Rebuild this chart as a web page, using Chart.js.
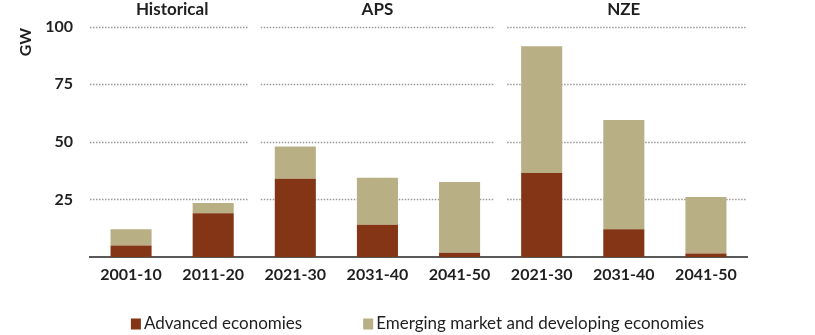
<!DOCTYPE html>
<html>
<head>
<meta charset="utf-8">
<script src="https://cdn.jsdelivr.net/npm/chart.js@4"></script>
<style>
  html, body { margin: 0; padding: 0; background: #fff; }
  #wrap { width: 815px; height: 335px; }
</style>
</head>
<body>
<div id="wrap"><canvas id="c" width="815" height="335"></canvas></div>
<script>
const categories = ['2001-10', '2011-20', '2021-30', '2031-40', '2041-50', '2021-30', '2031-40', '2041-50'];
const advanced = [5, 19, 34, 14, 1.8, 36.5, 12, 1.5];
const emerging = [7, 4.4, 14, 20.4, 30.8, 55, 47.5, 24.5];
const groupLabels = ['Historical', 'APS', 'NZE'];
const groupSizes = [2, 3, 3];
const yTicks = [25, 50, 75, 100];
const seriesNames = ['Advanced economies', 'Emerging market and developing economies'];
const colors = ['#843515', '#B8AF85'];

const FONT = 'Lato, "Open Sans", sans-serif';
const TEXT = '#1f1f1f';

const groupPlugin = {
  id: 'groupStuff',
  beforeDatasetsDraw(chart) {
    const { ctx, chartArea, scales } = chart;
    const x = scales.x, y = scales.y;
    const bounds = [];
    let idx = 0;
    for (let g = 0; g < groupSizes.length - 1; g++) {
      idx += groupSizes[g];
      bounds.push((x.getPixelForValue(idx - 1) + x.getPixelForValue(idx)) / 2);
    }
    const segs = [];
    let start = chartArea.left;
    bounds.forEach(b => { segs.push([start, b - 6.5]); start = b + 6.5; });
    segs.push([start, chartArea.right]);
    ctx.save();
    ctx.strokeStyle = '#999999';
    ctx.lineWidth = 1.5;
    ctx.setLineDash([1.5, 1.5]);
    yTicks.forEach(v => {
      const py = Math.round(y.getPixelForValue(v)) + 0.5;
      segs.forEach(s => {
        ctx.beginPath();
        ctx.moveTo(s[0], py);
        ctx.lineTo(s[1], py);
        ctx.stroke();
      });
    });
    ctx.restore();
  },
  afterDraw(chart) {
    const { ctx, scales } = chart;
    const x = scales.x;
    ctx.save();
    ctx.fillStyle = TEXT;
    ctx.font = 'bold 17px ' + FONT;
    ctx.textAlign = 'center';
    ctx.textBaseline = 'middle';
    let idx = 0;
    const half = (x.getPixelForValue(1) - x.getPixelForValue(0)) / 2;
    groupLabels.forEach((lab, g) => {
      const first = idx, last = idx + groupSizes[g] - 1;
      const cx = (x.getPixelForValue(first) - half + x.getPixelForValue(last) + half) / 2;
      ctx.fillText(lab, cx, 10);
      idx += groupSizes[g];
    });
    ctx.save();
    ctx.translate(25.5, 42);
    ctx.rotate(-Math.PI / 2);
    ctx.font = 'bold 16px ' + FONT;
    ctx.fillText('GW', 0, 0);
    ctx.restore();
    ctx.font = '17px ' + FONT;
    ctx.textAlign = 'left';
    const boxW = 10, gapBT = 3, gapItems = 61;
    const widths = seriesNames.map(n => ctx.measureText(n).width);
    const total = widths.reduce((a, w) => a + boxW + gapBT + w, 0) + gapItems * (seriesNames.length - 1);
    let lx = 417.5 - total / 2;
    const ly = 324;
    seriesNames.forEach((n, i) => {
      ctx.fillStyle = colors[i];
      ctx.fillRect(lx, ly - 5.5, boxW, 11);
      ctx.fillStyle = TEXT;
      ctx.fillText(n, lx + boxW + gapBT, ly);
      lx += boxW + gapBT + widths[i] + gapItems;
    });
    ctx.restore();
  }
};

new Chart(document.getElementById('c'), {
  type: 'bar',
  data: {
    labels: categories,
    datasets: [
      { label: seriesNames[0], data: advanced, backgroundColor: colors[0] },
      { label: seriesNames[1], data: emerging, backgroundColor: colors[1] }
    ]
  },
  options: {
    responsive: false,
    animation: false,
    devicePixelRatio: 1,
    layout: { padding: { top: 21, right: 68, bottom: 48, left: 0 } },
    datasets: { bar: { barPercentage: 0.5, categoryPercentage: 1.0 } },
    plugins: { legend: { display: false }, tooltip: { enabled: false } },
    scales: {
      x: {
        stacked: true,
        grid: { display: false, drawTicks: false },
        border: { display: true, color: '#595959', width: 2 },
        ticks: { color: TEXT, font: { family: FONT, size: 16, weight: 'bold' }, padding: 8, maxRotation: 0, autoSkip: false },
        afterFit(s) { s.height = 30; }
      },
      y: {
        stacked: true,
        min: 0, max: 100,
        afterBuildTicks(s) { s.ticks = [0].concat(yTicks).map(v => ({ value: v })); },
        grid: { display: false, drawTicks: false },
        border: { display: false },
        ticks: {
          color: TEXT, font: { family: FONT, size: 16, weight: 'bold' }, padding: 17,
          callback: v => (v === 0 ? '' : v)
        },
        afterFit(s) { s.width = 90; }
      }
    }
  },
  plugins: [groupPlugin]
});
</script>
</body>
</html>
